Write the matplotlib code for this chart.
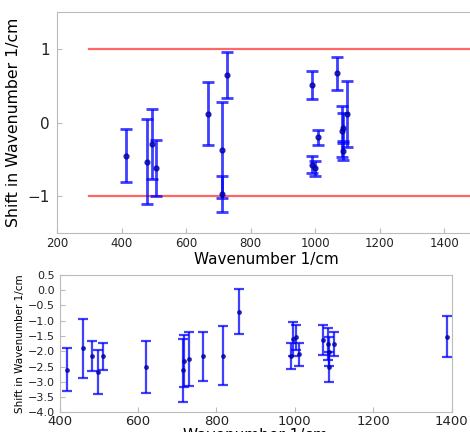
import matplotlib
matplotlib.use('Agg')
import matplotlib.pyplot as plt

# top panel: shifts with error bars
top_x = [415, 479, 494, 508, 667, 712, 712, 726, 990, 991, 1000, 1008, 1067, 1084, 1087, 1087, 1099]
top_y = [-0.45, -0.53, -0.29, -0.62, 0.12, -0.37, -0.97, 0.65, -0.57, 0.51, -0.62, -0.20, 0.67, -0.12, -0.07, -0.38, 0.12]
top_err = [0.36, 0.58, 0.47, 0.38, 0.43, 0.65, 0.25, 0.31, 0.12, 0.19, 0.10, 0.10, 0.22, 0.35, 0.20, 0.13, 0.45]

# threshold lines
limit_x = [300, 1500]
limits = [1, -1]

# bottom panel
bot_x = [418, 459, 482, 497, 512, 620, 714, 717, 729, 766, 818, 857,
         989, 995, 1002, 1011, 1071, 1085, 1087, 1088, 1100, 1387]
bot_y = [-2.61, -1.90, -2.17, -2.67, -2.17, -2.51, -2.63, -2.32, -2.26, -2.17, -2.15, -0.70,
         -2.16, -1.60, -1.54, -2.10, -1.63, -1.77, -2.01, -2.51, -1.77, -1.52]
bot_err = [0.70, 0.97, 0.49, 0.72, 0.44, 0.86, 1.02, 0.85, 0.88, 0.80, 0.97, 0.73,
           0.43, 0.57, 0.41, 0.37, 0.50, 0.52, 0.47, 0.49, 0.40, 0.67]

top_yticks = [-1, 0, 1]
top_xticks = [200, 400, 600, 800, 1000, 1200, 1400]
bot_yticks = [-4.0, -3.5, -3.0, -2.5, -2.0, -1.5, -1.0, -0.5, 0.0, 0.5]
bot_xticks = [400, 600, 800, 1000, 1200, 1400]

fig = plt.figure(figsize=(4.7, 4.32), dpi=100)

ax1 = fig.add_axes([0.1213, 0.4606, 0.893, 0.511])
ax2 = fig.add_axes([0.1266, 0.0456, 0.8345, 0.318])

for y in limits:
    ax1.plot(limit_x, [y, y], color='red', alpha=0.6, lw=1.6)
ax1.errorbar(top_x, top_y, yerr=top_err, fmt='o', ms=3.5, color='blue', mfc='#0000aa', mec='#0000aa',
             ecolor='blue', elinewidth=2, capsize=4, capthick=2, alpha=0.75)
ax1.set_xlim(200, 1500)
ax1.set_ylim(-1.5, 1.5)
ax1.set_xticks(top_xticks)
ax1.set_yticks(top_yticks)
ax1.set_yticklabels(['\u22121', '0', '1'])
ax1.tick_params(axis='x', labelsize=8.5, direction='in', color='#bbbbbb', pad=3)
ax1.tick_params(axis='y', labelsize=11, direction='in', color='#bbbbbb', pad=5)
ax1.set_xlabel('Wavenumber 1/cm', fontsize=11, labelpad=1)
ax1.set_ylabel('Shift in Wavenumber 1/cm', fontsize=11.3, labelpad=5)

ax2.errorbar(bot_x, bot_y, yerr=bot_err, fmt='o', ms=2.5, color='blue', mfc='#0000aa', mec='#0000aa',
             ecolor='blue', elinewidth=1.6, capsize=3.5, capthick=1.6, alpha=0.75)
ax2.set_xlim(400, 1400)
ax2.set_ylim(-4.0, 0.5)
ax2.set_xticks(bot_xticks)
ax2.set_yticks(bot_yticks)
ax2.set_yticklabels([('%.1f' % v).replace('-', '\u2212') for v in bot_yticks])
ax2.tick_params(axis='x', labelsize=9.5, direction='in', color='#bbbbbb', pad=2)
ax2.tick_params(axis='y', labelsize=8, direction='in', color='#bbbbbb', pad=3)
ax2.set_xlabel('Wavenumber 1/cm', fontsize=11, labelpad=0)
ax2.set_ylabel('Shift in Wavenumber 1/cm', fontsize=7.5, labelpad=2)

for ax in (ax1, ax2):
    for s in ax.spines.values():
        s.set_color('#bbbbbb')
    ax.tick_params(colors='#222222', which='both', color='#bbbbbb')

fig.savefig('out.png', dpi=100)
